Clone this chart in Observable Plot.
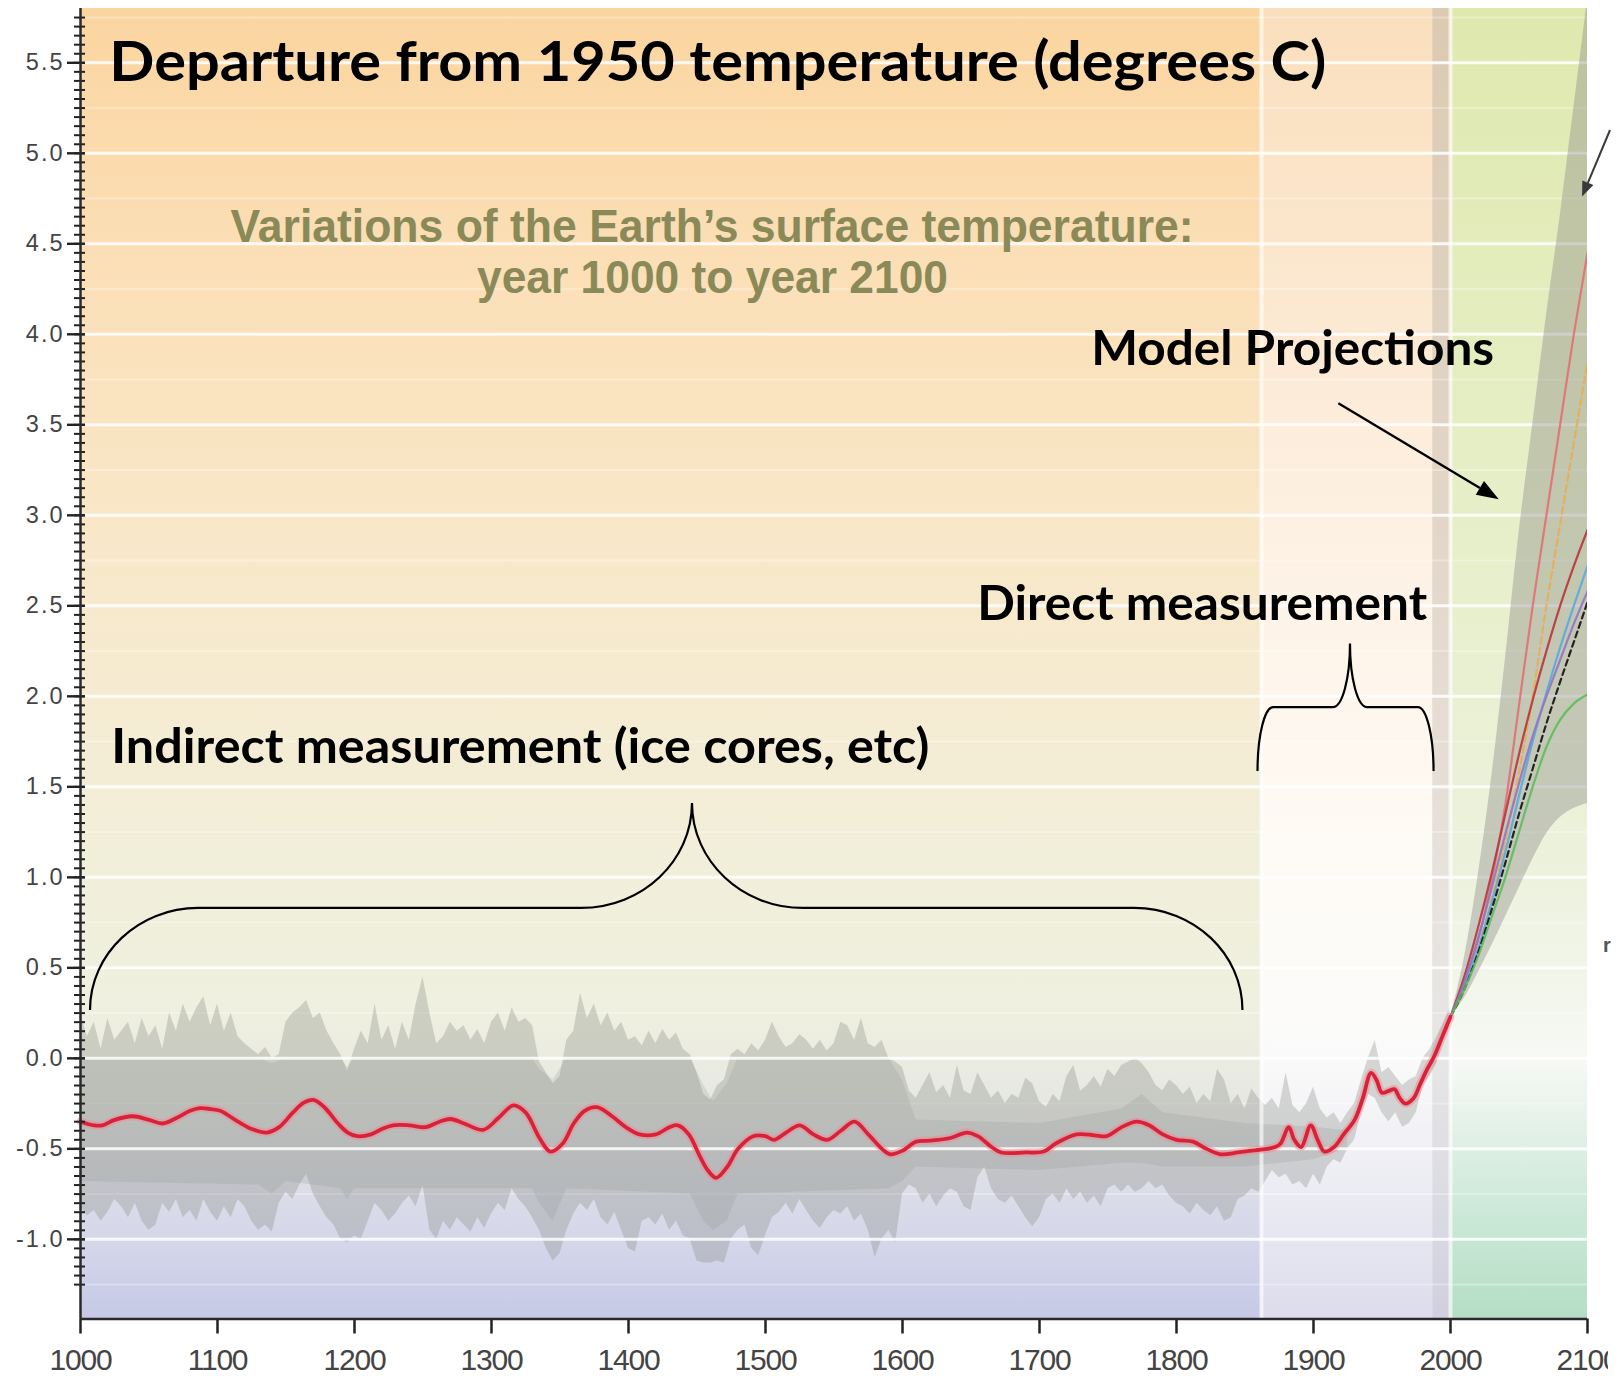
<!DOCTYPE html>
<html><head><meta charset="utf-8">
<script src="https://cdn.jsdelivr.net/npm/d3@7"></script>
<script src="https://cdn.jsdelivr.net/npm/@observablehq/plot@0.6"></script>
<style>
html,body{margin:0;padding:0;background:#fff;}
#chart{width:1624px;height:1376px;overflow:hidden;}
</style></head><body><div id="chart"></div>
<script>
// ---------- tick labels ----------
const xTicks = [1000,1100,1200,1300,1400,1500,1600,1700,1800,1900,2000,2100];
const yLabelTicks = [-1.0,-0.5,0.0,0.5,1.0,1.5,2.0,2.5,3.0,3.5,4.0,4.5,5.0,5.5];
const yMinorTicks = d3.range(-25, 116).map(i => i / 20);
const gridMinor = [-1.25,-0.75,-0.25,0.25,0.75,1.25,1.75,2.25,2.75,3.25,3.75,4.25,4.75,5.25,5.75];

// ---------- proxy (indirect) envelope, every 5 years from 1000 to 2000 ----------
const proxyHigh = [
 0.25,0.12,0.2,0.05,0.22,0.1,0.15,0.2,0.08,0.22,
 0.12,0.18,0.05,0.25,0.15,0.3,0.2,0.28,0.34,0.18,
 0.3,0.15,0.25,0.12,0.08,0.05,0.02,0.06,0.0,0.02,
 0.2,0.25,0.28,0.32,0.22,0.25,0.15,0.08,0.02,-0.07,
 0.05,0.15,0.08,0.3,0.1,0.18,0.05,0.2,0.1,0.3,
 0.45,0.25,0.08,0.12,0.2,0.15,0.18,0.1,0.16,0.08,
 0.2,0.25,0.15,0.28,0.2,0.22,0.18,-0.02,-0.08,-0.14,
 -0.1,0.1,0.15,0.36,0.22,0.3,0.18,0.25,0.15,0.2,
 0.1,0.12,0.07,0.15,0.08,0.16,0.1,0.14,0.05,0.02,
 -0.08,-0.2,-0.23,-0.15,-0.12,0.02,0.05,0.02,0.08,0.04,
 0.1,0.2,0.12,0.06,0.08,0.13,0.1,0.05,0.1,0.04,
 0.08,0.2,0.18,0.1,0.22,0.08,0.06,0.1,0.0,-0.02,
 -0.05,-0.18,-0.22,-0.15,-0.08,-0.19,-0.15,-0.22,-0.04,-0.18,
 -0.2,-0.08,-0.15,-0.22,-0.18,-0.25,-0.2,-0.22,-0.11,-0.14,
 -0.24,-0.27,-0.2,-0.24,-0.1,-0.04,-0.18,-0.15,-0.1,-0.16,
 -0.06,-0.1,-0.04,-0.02,0.0,-0.03,-0.08,-0.15,-0.18,-0.12,
 -0.15,-0.2,-0.16,-0.25,-0.2,-0.24,-0.06,-0.12,-0.25,-0.2,
 -0.28,-0.17,-0.22,-0.26,-0.22,-0.28,-0.08,-0.26,-0.3,-0.25,
 -0.16,-0.28,-0.33,-0.3,-0.36,-0.3,
 -0.25,-0.12,0.0,0.1,-0.08,-0.05,-0.1,-0.15,-0.12,-0.1,
 0.0,0.05,0.12,0.2,0.28
];
const proxyLow = [
 -0.82,-0.87,-0.84,-0.9,-0.85,-0.78,-0.82,-0.88,-0.8,-0.9,
 -0.95,-0.92,-0.8,-0.85,-0.78,-0.88,-0.84,-0.9,-0.78,-0.85,
 -0.9,-0.82,-0.88,-0.78,-0.82,-0.9,-0.95,-0.92,-0.96,-0.8,
 -0.74,-0.78,-0.7,-0.64,-0.75,-0.82,-0.88,-0.92,-1.0,-1.02,
 -0.98,-1.0,-0.9,-0.8,-0.84,-0.9,-0.86,-0.8,-0.76,-0.82,
 -0.7,-0.95,-1.0,-0.9,-0.95,-0.88,-0.92,-0.96,-0.88,-0.94,
 -0.86,-0.8,-0.84,-0.72,-0.78,-0.82,-0.88,-0.95,-1.05,-1.12,
 -1.08,-0.95,-0.86,-0.8,-0.84,-0.78,-0.88,-0.92,-0.85,-0.95,
 -1.05,-1.07,-0.9,-0.88,-0.92,-0.86,-0.95,-0.9,-0.98,-1.0,
 -1.12,-1.13,-1.13,-1.12,-1.13,-1.0,-0.95,-0.92,-1.05,-1.09,
 -0.98,-0.88,-0.85,-0.8,-0.86,-0.78,-0.84,-0.9,-0.94,-0.88,
 -0.84,-0.86,-0.82,-0.9,-0.86,-0.95,-1.1,-1.0,-0.95,-1.02,
 -0.75,-0.7,-0.72,-0.8,-0.75,-0.82,-0.76,-0.72,-0.74,-0.82,
 -0.84,-0.66,-0.6,-0.72,-0.78,-0.8,-0.76,-0.82,-0.88,-0.93,
 -0.88,-0.78,-0.75,-0.8,-0.72,-0.78,-0.74,-0.8,-0.76,-0.82,
 -0.72,-0.7,-0.74,-0.7,-0.74,-0.72,-0.68,-0.72,-0.7,-0.76,
 -0.8,-0.82,-0.86,-0.8,-0.84,-0.87,-0.82,-0.9,-0.88,-0.78,
 -0.76,-0.72,-0.74,-0.68,-0.62,-0.66,-0.64,-0.7,-0.68,-0.72,
 -0.64,-0.7,-0.6,-0.56,-0.58,-0.5,
 -0.45,-0.3,-0.2,-0.22,-0.3,-0.35,-0.3,-0.38,-0.36,-0.3,
 -0.15,-0.1,-0.03,0.1,0.18
];
// denser core of the reconstructions
const coreYears = [1000,1130,1140,1150,1190,1195,1200,1330,1335,1345,1355,1445,1455,1462,1472,1480,1590,1600,1610,1700,1760,1775,1790,1850,1900,1925];
const coreHigh  = [0.0,0.0,-0.03,0.0,0.0,-0.05,0.0,0.0,-0.06,-0.12,0.0,0.0,-0.15,-0.24,-0.14,0.0,0.0,-0.12,-0.34,-0.36,-0.28,-0.2,-0.3,-0.36,-0.38,-0.4];
const coreLow   = [-0.68,-0.7,-0.75,-0.68,-0.72,-0.78,-0.72,-0.72,-0.8,-0.9,-0.72,-0.75,-0.9,-0.95,-0.9,-0.75,-0.72,-0.68,-0.6,-0.62,-0.58,-0.58,-0.6,-0.6,-0.56,-0.5];

// ---------- smoothed reconstruction + instrumental (red) ----------
const redYears = [1000,1010,1016,1025,1038,1050,1060,1070,1080,1087,1095,1102,1115,1125,1136,1145,1155,1163,1170,1178,1188,1195,1202,1212,1220,1228,1240,1252,1262,1270,1280,1294,1305,1316,1325,1335,1343,1352,1360,1368,1377,1388,1398,1408,1420,1430,1436,1444,1452,1458,1464,1472,1480,1491,1500,1506,1515,1525,1535,1545,1555,1565,1575,1585,1591,1600,1610,1620,1635,1647,1655,1665,1672,1690,1703,1712,1727,1740,1749,1760,1771,1780,1790,1800,1812,1822,1832,1845,1855,1866,1872,1876,1882,1886,1891,1898,1903,1908,1915,1922,1930,1936,1942,1946,1950,1955,1959,1963,1967,1973,1978,1983,1988,1994,2000];
const redVals  = [-0.35,-0.37,-0.37,-0.34,-0.32,-0.34,-0.36,-0.33,-0.29,-0.275,-0.28,-0.29,-0.35,-0.39,-0.41,-0.38,-0.3,-0.245,-0.23,-0.27,-0.36,-0.41,-0.43,-0.42,-0.39,-0.37,-0.37,-0.38,-0.35,-0.335,-0.36,-0.395,-0.33,-0.26,-0.3,-0.44,-0.515,-0.47,-0.36,-0.29,-0.27,-0.32,-0.38,-0.42,-0.42,-0.38,-0.37,-0.42,-0.54,-0.62,-0.66,-0.6,-0.5,-0.43,-0.43,-0.45,-0.41,-0.37,-0.42,-0.45,-0.4,-0.35,-0.42,-0.5,-0.53,-0.51,-0.46,-0.455,-0.44,-0.41,-0.43,-0.49,-0.52,-0.52,-0.515,-0.47,-0.42,-0.425,-0.43,-0.38,-0.35,-0.37,-0.42,-0.45,-0.46,-0.5,-0.53,-0.52,-0.51,-0.5,-0.49,-0.47,-0.38,-0.45,-0.49,-0.37,-0.45,-0.515,-0.49,-0.42,-0.34,-0.22,-0.08,-0.12,-0.19,-0.18,-0.17,-0.22,-0.25,-0.22,-0.14,-0.06,0.01,0.12,0.23];

// ---------- model projections 2000-2100 ----------
const projYears = [2000,2010,2020,2030,2040,2050,2060,2070,2080,2090,2100];
const fanHigh = [0.23,0.55,1.0,1.55,2.2,2.9,3.5,4.1,4.65,5.25,5.85];
const fanLow  = [0.23,0.33,0.47,0.62,0.78,0.94,1.1,1.24,1.33,1.38,1.41];
const projA1FI = [0.23,0.42,0.65,0.98,1.4,1.95,2.5,3.0,3.5,4.0,4.45];
const projA2   = [0.23,0.38,0.6,0.88,1.2,1.58,2.0,2.5,2.95,3.4,3.85];
const projA1B  = [0.23,0.45,0.72,1.02,1.35,1.68,1.98,2.25,2.5,2.72,2.92];
const projB2   = [0.23,0.4,0.6,0.86,1.14,1.45,1.75,2.02,2.27,2.5,2.72];
const projA1T  = [0.23,0.42,0.66,0.94,1.24,1.52,1.78,2.0,2.2,2.4,2.58];
const projIS92 = [0.23,0.38,0.58,0.82,1.08,1.35,1.6,1.85,2.08,2.3,2.52];
const projB1   = [0.23,0.38,0.56,0.78,1.0,1.25,1.5,1.72,1.87,1.96,2.01];

// ---------- background zones ----------
const zones = [
  {x1: 1000, x2: 1862, fill: "url(#gIndirect)"},
  {x1: 1862, x2: 1987, fill: "url(#gDirect)"},
  {x1: 1987, x2: 2000, fill: "url(#gBand)"},
  {x1: 2000, x2: 2100, fill: "url(#gProj)"}
];
const gradients = [
  {id: "gIndirect", stops: [[5.8,"#fbd5a0"],[4.5,"#fbdeb5"],[3.0,"#f9e7c7"],[2.0,"#f5ebd1"],[1.0,"#f1efdb"],[0.3,"#eff0df"],[0.0,"#ebece0"],[-0.5,"#e1e2e6"],[-1.0,"#d5d7ea"],[-1.44,"#c5c9e6"]]},
  {id: "gDirect",   stops: [[5.8,"#fadfbd"],[4.0,"#fce9d3"],[3.0,"#fdf0e2"],[2.0,"#fef6ed"],[1.0,"#fefbf6"],[0.0,"#fafafa"],[-0.5,"#f0f0f5"],[-1.0,"#e6e6f1"],[-1.44,"#dcdcec"]]},
  {id: "gBand",     stops: [[5.8,"#dccab2"],[3.0,"#e2d6c8"],[1.0,"#e8e2dc"],[0.0,"#e6e6e6"],[-1.0,"#d8d8e2"],[-1.44,"#d0d0de"]]},
  {id: "gProj",     stops: [[5.8,"#dfe9ae"],[4.0,"#e4edbf"],[2.0,"#e9f0d2"],[1.0,"#edf2de"],[0.3,"#f3f6ec"],[0.0,"#f7f9f5"],[-0.3,"#e8f3ec"],[-0.7,"#d3ebdd"],[-1.0,"#c6e6d3"],[-1.44,"#b5dec5"]]}
];

// ---------- annotation texts ----------
const boldLabels = [
  {text: "Departure from 1950 temperature (degrees C)", x: 1021.0, y: 5.402, size: 56},
  {text: "Model Projections", x: 1737.7, y: 3.830, size: 48},
  {text: "Direct measurement", x: 1654.5, y: 2.422, size: 48},
  {text: "Indirect measurement (ice cores, etc)", x: 1022.5, y: 1.629, size: 48}
];
const subtitleLines = [
  {text: "Variations of the Earth’s surface temperature:", x: 1461.0, y: 4.510},
  {text: "year 1000 to year 2100", x: 1461.3, y: 4.231}
];
const fragmentLabels = [{text: "r", x: 2111.4, y: 0.585}];
const fitWidths = new Map([
  ["Departure from 1950 temperature (degrees C)", 1217],
  ["Variations of the Earth’s surface temperature:", 963],
  ["year 1000 to year 2100", 471],
  ["Model Projections", 403],
  ["Direct measurement", 450],
  ["Indirect measurement (ice cores, etc)", 818]
]);
// braces: ends, centre tip, bar level, curve extents (years)
const braces = [
  {left: 1007.3, mid: 1446.7, right: 1848.5, end: 0.264, bar: 0.828, tip: 1.408, endR: 79, midR: 81},
  {left: 1859.5, mid: 1927.0, right: 1988.0, end: 1.585, bar: 1.938, tip: 2.289, endR: 11.5, midR: 12.5}
];
const arrows = [
  {x1: 1918.5, y1: 3.616, x2: 2035.6, y2: 3.086, color: "#000", width: 2.4, head: 22, headW: 8},
  {x1: 2116.8, y1: 5.126, x2: 2096.4, y2: 4.758, color: "#3a3a3a", width: 2, head: 15, headW: 6}
];

// ---------- build tables ----------
const proxy = proxyHigh.map((h, i) => ({year: 1000 + 5 * i, high: h, low: proxyLow[i]}));
const core = coreYears.map((yr, i) => ({year: yr, high: coreHigh[i], low: coreLow[i]}));
const red = redYears.map((yr, i) => ({year: yr, value: redVals[i]}));
const fan = projYears.map((yr, i) => ({year: yr, high: fanHigh[i], low: fanLow[i]}));
const projSeries = [
  {name: "A1FI", values: projA1FI, stroke: "#e46a70", width: 2.2, opacity: 0.85, dash: null},
  {name: "A2", values: projA2, stroke: "#eeaa48", width: 2.2, opacity: 0.8, dash: "7,4"},
  {name: "A1B", values: projA1B, stroke: "#b8343a", width: 2.2, opacity: 0.9, dash: null},
  {name: "B2", values: projB2, stroke: "#5aa8e0", width: 2.2, opacity: 0.9, dash: null},
  {name: "A1T", values: projA1T, stroke: "#9474c4", width: 2.2, opacity: 0.9, dash: null},
  {name: "IS92a", values: projIS92, stroke: "#1a1a1a", width: 2.2, opacity: 0.95, dash: "6,4"},
  {name: "B1", values: projB1, stroke: "#5cbc5c", width: 2.2, opacity: 0.9, dash: null}
];
const projLines = projSeries.map(s => Plot.line(projYears.map((yr, i) => ({year: yr, value: s.values[i]})), {
  x: "year", y: "value", stroke: s.stroke, strokeWidth: s.width, strokeOpacity: s.opacity,
  strokeDasharray: s.dash || undefined, curve: "monotone-x", clip: true
}));

function defsMark() {
  const defs = d3.create("svg:defs");
  for (const g of gradients) {
    const lg = defs.append("linearGradient").attr("id", g.id)
      .attr("x1", 0).attr("y1", 0).attr("x2", 0).attr("y2", 1);
    for (const [v, c] of g.stops) lg.append("stop").attr("offset", (5.8 - v) / 7.24).attr("stop-color", c);
  }
  return defs.node();
}

function annotationMark(index, scales) {
  const {x, y} = scales;
  const g = d3.create("svg:g");
  const k = 0.552;
  for (const b of braces) {
    const xl = x(b.left), xm = x(b.mid), xr = x(b.right);
    const ye = y(b.end), yb = y(b.bar), yt = y(b.tip);
    const er = x(b.left + b.endR) - xl, mr = x(b.left + b.midR) - xl;
    const ry = ye - yb, ty = yb - yt;
    const d = `M${xl},${ye} C${xl},${ye - k*ry} ${xl + er - k*er},${yb} ${xl + er},${yb}` +
      ` L${xm - mr},${yb} C${xm - mr + k*mr},${yb} ${xm},${yt + k*ty} ${xm},${yt}` +
      ` C${xm},${yt + k*ty} ${xm + mr - k*mr},${yb} ${xm + mr},${yb}` +
      ` L${xr - er},${yb} C${xr - er + k*er},${yb} ${xr},${ye - k*ry} ${xr},${ye}`;
    g.append("path").attr("d", d).attr("fill", "none").attr("stroke", "#000").attr("stroke-width", 2.2);
  }
  for (const a of arrows) {
    const x1 = x(a.x1), y1 = y(a.y1), x2 = x(a.x2), y2 = y(a.y2);
    const ang = Math.atan2(y2 - y1, x2 - x1);
    const bx = x2 - a.head * Math.cos(ang), by = y2 - a.head * Math.sin(ang);
    g.append("line").attr("x1", x1).attr("y1", y1).attr("x2", bx).attr("y2", by)
      .attr("stroke", a.color).attr("stroke-width", a.width);
    const s = Math.sin(ang), c = Math.cos(ang);
    g.append("polygon").attr("points",
      `${x2},${y2} ${bx + a.headW*s},${by - a.headW*c} ${bx - a.headW*s},${by + a.headW*c}`)
      .attr("fill", a.color);
  }
  return g.node();
}

const plot = Plot.plot({
  width: 1624, height: 1376,
  marginLeft: 80, marginRight: 37, marginTop: 8, marginBottom: 57.5,
  x: {domain: [1000, 2100]},
  y: {domain: [-1.44, 5.8]},
  style: {background: "white", fontFamily: "Liberation Sans, Arial, sans-serif", overflow: "visible"},
  marks: [
    defsMark,
    ...zones.map(z => Plot.rect([z], {x1: "x1", x2: "x2", y1: -1.44, y2: 5.8, fill: z.fill})),
    Plot.ruleY(gridMinor, {stroke: "white", strokeWidth: 2, strokeOpacity: 0.3}),
    Plot.areaY(proxy, {x: "year", y1: "low", y2: "high", fill: "#8e908b", fillOpacity: 0.34}),
    Plot.areaY(core, {x: "year", y1: "low", y2: "high", fill: "#8e908b", fillOpacity: 0.2}),
    Plot.ruleY(yLabelTicks, {stroke: "white", strokeWidth: 3, strokeOpacity: 0.85}),
    Plot.ruleX([1862, 2000], {stroke: "white", strokeWidth: 4, strokeOpacity: 0.65}),
    Plot.areaY(fan, {x: "year", y1: "low", y2: "high", fill: "#8e908b", fillOpacity: 0.42, curve: "monotone-x", clip: true}),
    ...projLines,
    Plot.line(red, {x: "year", y: "value", stroke: "#f08a92", strokeWidth: 8, strokeOpacity: 0.5, curve: "catmull-rom"}),
    Plot.line(red, {x: "year", y: "value", stroke: "#d8223a", strokeWidth: 3.8, curve: "catmull-rom"}),
    // axes
    Plot.axisY(yMinorTicks, {tickSize: 11, dx: 5, stroke: "#222", strokeWidth: 2, fill: "none", label: null}),
    Plot.axisY(yLabelTicks, {tickSize: 18, dx: 5, stroke: "#222", strokeWidth: 2.4, fill: "none", label: null}),
    Plot.axisY(yLabelTicks, {tickSize: 0, tickPadding: 16, fill: "#444", fontSize: 23.5, tickFormat: d => d.toFixed(1), label: null}),
    Plot.axisX(xTicks, {tickSize: 15, tickPadding: 14.5, stroke: "#222", strokeWidth: 2.5, fill: "#444", fontSize: 30, tickFormat: d => String(d), label: null}),
    Plot.ruleY([-1.44], {stroke: "#2a2a2a", strokeWidth: 2.5}),
    Plot.ruleX([1000], {stroke: "#2a2a2a", strokeWidth: 2.5}),
    // crop of the original picture at its right edge
    Plot.rect([{x1: 2115.3, x2: 2140}], {x1: "x1", x2: "x2", y1: -1.5, y2: -1.9, fill: "white"}),
    // texts
    Plot.text(subtitleLines, {x: "x", y: "y", text: "text", textAnchor: "middle", lineAnchor: "bottom",
      fontSize: 47, fontWeight: "bold", fontFamily: "Liberation Sans Narrow, Liberation Sans, Arial, sans-serif", fill: "#8a8958"}),
    Plot.text(boldLabels, {x: "x", y: "y", text: "text", textAnchor: "start", lineAnchor: "bottom",
      fontSize: "size", fontWeight: "bold", fontFamily: "Lato, Open Sans, sans-serif", fill: "#000"}),
    Plot.text(fragmentLabels, {x: "x", y: "y", text: "text", textAnchor: "start", lineAnchor: "bottom",
      fontSize: 20, fontWeight: "bold", fill: "#555"}),
    annotationMark
  ]
});

const root = d3.select(plot);
root.selectAll("text").each(function() {
  const w = fitWidths.get(this.textContent);
  if (w) { this.setAttribute("textLength", w); this.setAttribute("lengthAdjust", "spacingAndGlyphs"); }
});
root.selectAll('g[aria-label="y-axis tick label"] text').attr("letter-spacing", 2);
root.selectAll('g[aria-label="x-axis tick label"] text').attr("letter-spacing", -1.2);
document.getElementById("chart").appendChild(plot);
</script></body></html>
